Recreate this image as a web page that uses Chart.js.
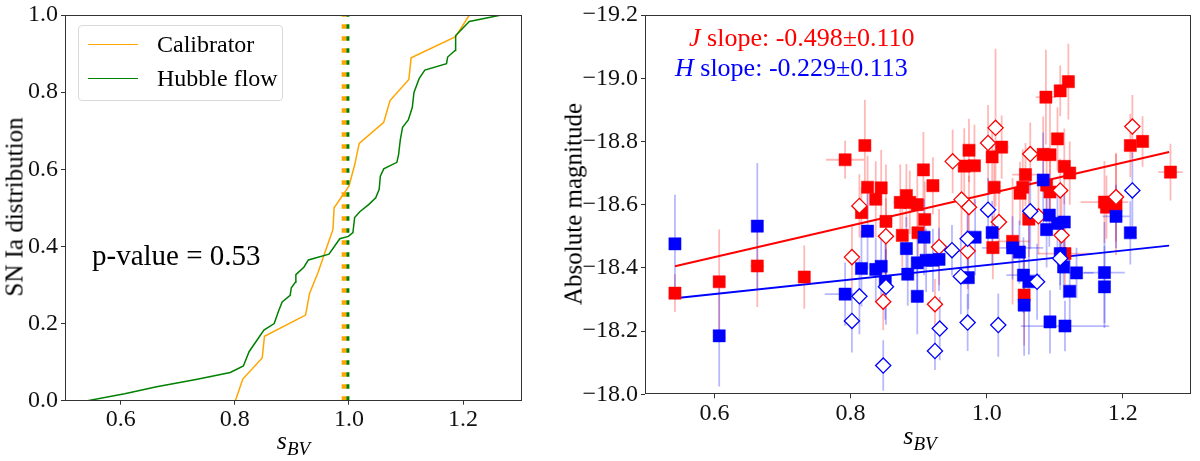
<!DOCTYPE html>
<html>
<head>
<meta charset="utf-8">
<script src="https://cdn.jsdelivr.net/npm/chart.js@4.4.1/dist/chart.umd.min.js"></script>
<style>
  html, body { margin:0; padding:0; background:#fff; }
  body { width:1200px; height:461px; position:relative; overflow:hidden; font-family:"Liberation Serif", serif; color:#000; }
  .pane { position:absolute; top:0; height:461px; }
  .txt { position:absolute; white-space:nowrap; line-height:1; }
  .legend { position:absolute; left:78px; top:25px; width:203px; height:74px; border:1px solid #d9d9d9; border-radius:4px; background:rgba(255,255,255,0.8); }
  .lline { position:absolute; width:50px; height:0; }
</style>
</head>
<body>
<div class="pane" style="left:0;width:540px"><canvas id="cdf" width="540" height="461"></canvas></div>
<div class="pane" style="left:540px;width:660px"><canvas id="mag" width="660" height="461"></canvas></div>

<!-- left panel texts -->
<div class="legend">
  <div class="lline" style="left:9px;top:17.5px;border-top:1.5px solid #ffa500"></div>
  <div class="lline" style="left:9px;top:51.5px;border-top:1.5px solid #008000"></div>
</div>
<div class="txt" style="left:157px;top:32px;font-size:24px">Calibrator</div>
<div class="txt" style="left:157px;top:65.6px;font-size:24px">Hubble flow</div>
<div class="txt" id="pval" style="left:92px;top:240.7px;font-size:29px"></div>
<div class="txt" style="left:14px;top:206.7px;font-size:25px;transform:translate(-50%,-50%) rotate(-90deg)">SN Ia distribution</div>
<div class="txt" style="left:293.5px;top:428px;transform:translateX(-50%)"><span style="font-style:italic;font-size:26px">s</span><span style="font-style:italic;font-size:19px;position:relative;top:6px">BV</span></div>

<!-- right panel texts -->
<div class="txt" id="jtxt" style="left:689px;top:24.7px;font-size:26px;color:#ff0000"></div>
<div class="txt" id="htxt" style="left:675px;top:55.2px;font-size:26px;color:#0000ff"></div>
<div class="txt" style="left:573px;top:204px;font-size:25px;transform:translate(-50%,-50%) rotate(-90deg)">Absolute magnitude</div>
<div class="txt" style="left:920px;top:423px;transform:translateX(-50%)"><span style="font-style:italic;font-size:26px">s</span><span style="font-style:italic;font-size:19px;position:relative;top:6px">BV</span></div>

<script>
// ---------------- LEFT PANEL DATA (cumulative distributions) ----------------
const calibS   = [0.801,0.814,0.848,0.852,0.924,0.931,0.946,0.959,0.972,0.974,1.000,1.010,1.018,1.061,1.072,1.105,1.109,1.187,1.211];
const calibCDF = [0.000,0.056,0.111,0.167,0.222,0.278,0.333,0.389,0.444,0.500,0.556,0.611,0.667,0.722,0.778,0.833,0.889,0.944,1.000];
const hubbleS   = [0.542,0.607,0.663,0.732,0.792,0.815,0.825,0.851,0.869,0.877,0.883,0.897,0.899,0.906,0.907,0.921,0.929,0.965,0.975,0.984,0.999,1.007,1.010,1.019,1.035,1.047,1.053,1.055,1.061,1.084,1.087,1.090,1.094,1.104,1.111,1.114,1.123,1.133,1.171,1.173,1.186,1.187,1.211,1.267];
const hubbleCDF = [0.000,0.018,0.036,0.055,0.073,0.090,0.127,0.183,0.200,0.234,0.256,0.273,0.293,0.307,0.327,0.346,0.365,0.380,0.401,0.420,0.426,0.436,0.475,0.490,0.509,0.526,0.548,0.582,0.601,0.618,0.638,0.676,0.709,0.728,0.760,0.799,0.835,0.857,0.874,0.891,0.908,0.947,0.983,1.000];
const medianS = [0.9916, 0.9982];          // calibrator, Hubble flow
const cdfLabels = ["Calibrator", "Hubble flow"];
const pValue = 0.53;
const cdfXTicks = [0.6, 0.8, 1.0, 1.2];
const cdfYTicks = [0.0, 0.2, 0.4, 0.6, 0.8, 1.0];

// ---------------- RIGHT PANEL DATA (absolute magnitudes) ----------------
// J band, Hubble-flow SNe (filled squares)
const jHfS    = [0.542,0.607,0.663,0.732,0.792,0.821,0.825,0.816,0.837,0.845,0.852,0.876,0.873,0.882,0.887,0.898,0.899,0.907,0.909,0.921,0.967,0.974,0.982,1.008,1.022,1.011,1.009,1.038,1.049,1.053,1.057,1.062,1.055,1.083,1.093,1.087,1.108,1.120,1.104,1.114,1.122,1.093,1.088,1.115,1.173,1.176,1.190,1.211,1.229,1.270];
const jHfM    = [-18.320,-18.356,-18.406,-18.371,-18.742,-18.787,-18.655,-18.575,-18.617,-18.653,-18.547,-18.503,-18.607,-18.629,-18.607,-18.600,-18.511,-18.710,-18.553,-18.660,-18.722,-18.772,-18.723,-18.751,-18.782,-18.655,-18.464,-18.484,-18.636,-18.655,-18.695,-18.554,-18.314,-18.759,-18.758,-18.940,-18.960,-18.989,-18.808,-18.721,-18.700,-18.640,-18.662,-18.445,-18.608,-18.592,-18.600,-18.787,-18.800,-18.703];
const jHfMErr = [0.06,0.165,0.13,0.10,0.06,0.145,0.10,0.08,0.12,0.12,0.18,0.10,0.12,0.10,0.10,0.09,0.10,0.12,0.12,0.09,0.12,0.10,0.13,0.10,0.10,0.12,0.10,0.20,0.10,0.12,0.10,0.12,0.16,0.12,0.18,0.15,0.08,0.12,0.10,0.12,0.10,0.12,0.10,0.10,0.13,0.10,0.16,0.10,0.08,0.09];
const jHfSErr = [0,0,0.01,0,0.028,0,0,0,0,0,0,0,0.01,0,0,0,0,0,0,0,0,0,0,0,0.01,0,0,0.025,0,0,0.02,0,0,0,0,0.015,0,0,0,0,0,0,0,0.04,0.035,0,0,0,0,0.018];
// J band, calibrators (open diamonds)
const jCalS    = [0.802,0.813,0.852,0.848,0.930,0.924,0.950,0.963,0.974,0.972,1.002,1.013,1.018,1.064,1.076,1.108,1.110,1.190,1.214];
const jCalM    = [-18.434,-18.596,-18.500,-18.293,-18.466,-18.285,-18.737,-18.616,-18.592,-18.453,-18.795,-18.843,-18.545,-18.760,-18.563,-18.645,-18.503,-18.624,-18.847];
const jCalMErr = [0.10,0.10,0.12,0.09,0.12,0.08,0.10,0.12,0.10,0.12,0.12,0.25,0.10,0.10,0.12,0.10,0.12,0.14,0.10];
// H band, Hubble-flow SNe (filled squares)
const hHfS    = [0.542,0.607,0.663,0.792,0.816,0.825,0.837,0.845,0.851,0.882,0.884,0.898,0.898,0.908,0.911,0.921,0.930,0.973,0.983,1.008,1.038,1.048,1.054,1.062,1.055,1.083,1.092,1.088,1.104,1.114,1.108,1.113,1.122,1.132,1.093,1.115,1.173,1.173,1.190,1.211];
const hHfM    = [-18.476,-18.185,-18.532,-18.317,-18.398,-18.516,-18.395,-18.405,-18.356,-18.461,-18.380,-18.310,-18.416,-18.497,-18.424,-18.424,-18.427,-18.369,-18.497,-18.512,-18.463,-18.450,-18.377,-18.356,-18.282,-18.678,-18.567,-18.521,-18.541,-18.545,-18.445,-18.403,-18.326,-18.384,-18.229,-18.216,-18.385,-18.340,-18.563,-18.511];
const hHfMErr = [0.155,0.16,0.20,0.10,0.12,0.12,0.10,0.10,0.12,0.10,0.10,0.12,0.10,0.12,0.10,0.10,0.10,0.10,0.12,0.10,0.10,0.10,0.12,0.23,0.16,0.15,0.10,0.12,0.10,0.10,0.10,0.10,0.10,0.08,0.10,0.08,0.16,0.13,0.10,0.10];
const hHfSErr = [0,0,0,0.03,0,0,0,0,0,0,0,0,0,0,0,0,0,0,0,0,0.045,0,0.025,0,0,0,0,0,0,0,0,0,0,0.025,0,0.065,0.03,0,0.02,0];
// H band, calibrators (open diamonds)
const hCalS    = [0.802,0.813,0.848,0.852,0.924,0.931,0.949,0.962,0.972,0.972,1.002,1.017,1.064,1.074,1.108,1.214];
const hCalM    = [-18.232,-18.310,-18.091,-18.340,-18.137,-18.208,-18.456,-18.373,-18.492,-18.227,-18.584,-18.219,-18.579,-18.356,-18.430,-18.645];
const hCalMErr = [0.10,0.12,0.08,0.12,0.06,0.10,0.08,0.12,0.10,0.09,0.10,0.10,0.12,0.12,0.10,0.12];
// linear fits: [J, H]
const fitBands    = ["J", "H"];
const fitSlope    = [-0.498, -0.229];
const fitSlopeErr = [0.110, 0.113];
const fitAtOne    = [-18.633, -18.409];   // magnitude at s_BV = 1
const fitSpan     = [0.542, 1.268];
const magXTicks = [0.6, 0.8, 1.0, 1.2];
const magYTicks = [-19.2, -19.0, -18.8, -18.6, -18.4, -18.2, -18.0];

// ---------------- texts ----------------
document.getElementById('pval').textContent = 'p-value = ' + pValue.toFixed(2);
document.getElementById('jtxt').innerHTML = '<i>' + fitBands[0] + '</i> slope: ' + fitSlope[0].toFixed(3) + '\u00b1' + fitSlopeErr[0].toFixed(3);
document.getElementById('htxt').innerHTML = '<i>' + fitBands[1] + '</i> slope: ' + fitSlope[1].toFixed(3) + '\u00b1' + fitSlopeErr[1].toFixed(3);

const FONT = 'Liberation Serif';
Chart.defaults.font.family = FONT;
Chart.defaults.font.size = 24;
Chart.defaults.color = '#111';
const zip = (xs, ys) => xs.map((v, i) => ({x: v, y: ys[i]}));

const framePlugin = {
  id: 'frame',
  afterDraw(chart) {
    const {ctx, chartArea: a} = chart;
    ctx.save();
    ctx.strokeStyle = '#333';
    ctx.lineWidth = 1;
    ctx.strokeRect(Math.round(a.left) + 0.5, Math.round(a.top) + 0.5, Math.round(a.right) - Math.round(a.left) - 1, Math.round(a.bottom) - Math.round(a.top) - 1);
    ctx.restore();
  }
};

function makeErrPlugin(sets) {
  return {
    id: 'errbars',
    beforeDatasetsDraw(chart) {
      const {ctx, chartArea: a, scales: {x, y}} = chart;
      ctx.save();
      ctx.beginPath(); ctx.rect(a.left, a.top, a.right - a.left, a.bottom - a.top); ctx.clip();
      ctx.lineWidth = 1.8;
      for (const s of sets) {
        ctx.strokeStyle = s.color;
        for (let i = 0; i < s.x.length; i++) {
          const px = x.getPixelForValue(s.x[i]);
          const py = y.getPixelForValue(s.y[i]);
          ctx.beginPath();
          ctx.moveTo(px, y.getPixelForValue(s.y[i] - s.yerr[i]));
          ctx.lineTo(px, y.getPixelForValue(s.y[i] + s.yerr[i]));
          const xe = s.xerr ? s.xerr[i] : 0;
          if (xe > 0) {
            ctx.moveTo(x.getPixelForValue(s.x[i] - xe), py);
            ctx.lineTo(x.getPixelForValue(s.x[i] + xe), py);
          }
          ctx.stroke();
        }
      }
      ctx.restore();
    }
  };
}

function axis(ticks, fmt, fitFn, extra) {
  return Object.assign({
    type: 'linear',
    afterBuildTicks: s => { s.ticks = ticks.map(v => ({value: v})); },
    afterFit: fitFn,
    border: {display: false},
    grid: {display: true, drawOnChartArea: false, drawTicks: true, tickLength: 4, color: '#333', lineWidth: 1},
    ticks: {font: {family: FONT, size: 24, lineHeight: 1}, color: '#111', padding: 3, callback: fmt}
  }, extra);
}

// ---------- left chart ----------
new Chart(document.getElementById('cdf'), {
  type: 'scatter',
  data: {
    datasets: [
      {label: cdfLabels[0], data: zip(calibS, calibCDF), showLine: true, borderColor: '#ffa500', borderWidth: 1.5, pointRadius: 0, tension: 0, order: 3},
      {label: cdfLabels[1], data: zip(hubbleS, hubbleCDF), showLine: true, borderColor: '#008000', borderWidth: 1.5, pointRadius: 0, tension: 0, order: 2},
      {label: 'median ' + cdfLabels[0], data: [{x: medianS[0], y: 0}, {x: medianS[0], y: 1}], showLine: true, borderColor: '#ffa500', borderWidth: 5, borderDash: [4.5, 7.5], pointRadius: 0, order: 1},
      {label: 'median ' + cdfLabels[1], data: [{x: medianS[1], y: 0}, {x: medianS[1], y: 1}], showLine: true, borderColor: '#008000', borderWidth: 3, borderDash: [4.5, 7.5], pointRadius: 0, order: 0}
    ]
  },
  options: {
    responsive: false, animation: false,
    layout: {padding: {top: 12.7, right: 18, bottom: 0, left: 0}},
    plugins: {legend: {display: false}, tooltip: {enabled: false}},
    scales: {
      x: axis(cdfXTicks, v => Number(v).toFixed(1), s => { s.height = 60.3; }, {min: 0.5024, max: 1.3033}),
      y: axis(cdfYTicks, v => Number(v).toFixed(1), s => { s.width = 65; }, {min: 0, max: 1})
    }
  },
  plugins: [framePlugin]
});

// ---------- right chart ----------
const fitLine = k => [fitSpan[0], fitSpan[1]].map(s => ({x: s, y: fitAtOne[k] + fitSlope[k] * (s - 1)}));
const errSets = [
  {x: jHfS, y: jHfM, yerr: jHfMErr, xerr: jHfSErr, color: 'rgba(255,0,0,0.28)'},
  {x: jCalS, y: jCalM, yerr: jCalMErr, color: 'rgba(255,0,0,0.28)'},
  {x: hHfS, y: hHfM, yerr: hHfMErr, xerr: hHfSErr, color: 'rgba(0,0,255,0.28)'},
  {x: hCalS, y: hCalM, yerr: hCalMErr, color: 'rgba(0,0,255,0.28)'}
];
new Chart(document.getElementById('mag'), {
  type: 'scatter',
  data: {
    datasets: [
      {label: 'J fit', data: fitLine(0), showLine: true, borderColor: '#ff0000', borderWidth: 2, pointRadius: 0, order: 11},
      {label: 'H fit', data: fitLine(1), showLine: true, borderColor: '#0000ff', borderWidth: 2, pointRadius: 0, order: 10},
      {label: 'J Hubble flow', data: zip(jHfS, jHfM), pointStyle: 'rect', pointRadius: 8.6, backgroundColor: '#ff0000', borderColor: '#ff0000', borderWidth: 0.5, order: 6},
      {label: 'J calibrator', data: zip(jCalS, jCalM), pointStyle: 'rectRot', pointRadius: 7.6, backgroundColor: '#ffffff', borderColor: '#ff0000', borderWidth: 1.3, order: 5},
      {label: 'H Hubble flow', data: zip(hHfS, hHfM), pointStyle: 'rect', pointRadius: 8.6, backgroundColor: '#0000ff', borderColor: '#0000ff', borderWidth: 0.5, order: 4},
      {label: 'H calibrator', data: zip(hCalS, hCalM), pointStyle: 'rectRot', pointRadius: 7.6, backgroundColor: '#ffffff', borderColor: '#0000ff', borderWidth: 1.3, order: 3}
    ]
  },
  options: {
    responsive: false, animation: false,
    layout: {padding: {top: 13, right: 4.7, bottom: 0, left: 0}},
    plugins: {legend: {display: false}, tooltip: {enabled: false}},
    scales: {
      x: axis(magXTicks, v => Number(v).toFixed(1), s => { s.height = 66.7; }, {min: 0.498, max: 1.300}),
      y: axis(magYTicks, v => '\u2212' + Math.abs(Number(v)).toFixed(1), s => { s.width = 105; }, {min: -19.2, max: -18.0, reverse: true})
    }
  },
  plugins: [makeErrPlugin(errSets), framePlugin]
});
</script>
</body>
</html>
